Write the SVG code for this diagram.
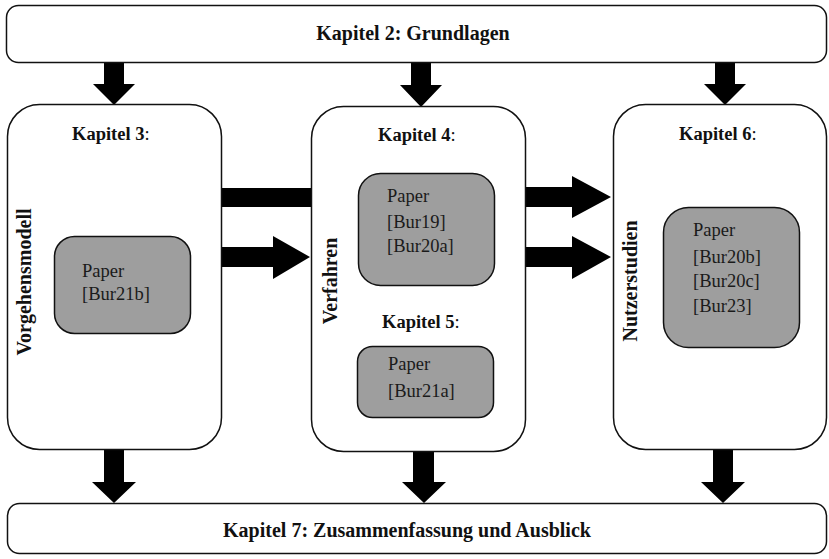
<svg xmlns="http://www.w3.org/2000/svg" width="829" height="559" viewBox="0 0 829 559">
  <style>
    .frame { fill: #ffffff; stroke: #111111; stroke-width: 1.5; }
    .paper { fill: #9e9e9e; stroke: #111111; stroke-width: 1.5; }
    .arrow { fill: #000000; stroke: none; }
    text { font-family: "Liberation Serif", "Times New Roman", serif; font-size: 18.5px; fill: #111111; }
    .title { font-weight: bold; }
    .big { font-size: 20px; }
    .side { font-size: 20px; font-weight: bold; }
    .ref { fill: #1a1a1a; }
  </style>

  <!-- connectors (drawn first so boxes sit on top) -->
  <g id="connectors">
    <!-- Grundlagen to chapters -->
    <polygon class="arrow" points="104,62 124,62 124,84 135,84 114,105 93,84 104,84"/>
    <polygon class="arrow" points="411,62 431,62 431,85 442,85 421,107 400,85 411,85"/>
    <polygon class="arrow" points="715,62 735,62 735,84 746,84 725,105 704,84 715,84"/>
    <!-- Vorgehensmodell to Verfahren -->
    <rect class="arrow" x="222" y="188" width="90" height="19"/>
    <polygon class="arrow" points="222,247 273,247 273,236 310,257 273,279 273,267 222,267"/>
    <!-- Verfahren to Nutzerstudien -->
    <polygon class="arrow" points="525,187 572,187 572,176 611,197 572,218 572,207 525,207"/>
    <polygon class="arrow" points="525,247 572,247 572,236 611,257 572,279 572,267 525,267"/>
    <!-- chapters to Zusammenfassung -->
    <polygon class="arrow" points="104,450 124,450 124,482 136,482 114,503 92,482 104,482"/>
    <polygon class="arrow" points="413,452 434,452 434,482 446,482 424,503 402,482 413,482"/>
    <polygon class="arrow" points="713,450 733,450 733,482 745,482 723,503 701,482 713,482"/>
  </g>

  <g id="grundlagen">
    <rect class="frame" x="6.5" y="5.5" width="820" height="57" rx="12"/>
    <text class="title big" x="413" y="40" text-anchor="middle">Kapitel 2: Grundlagen</text>
  </g>

  <g id="kapitel3">
    <rect class="frame" x="7.5" y="104.5" width="214" height="345" rx="32"/>
    <text x="72" y="140"><tspan class="title">Kapitel 3</tspan>:</text>
    <text class="side" transform="translate(31,282) rotate(-90)" text-anchor="middle">Vorgehensmodell</text>
    <g id="paper-bur21b">
      <rect class="paper" x="54.5" y="236.5" width="136" height="97" rx="20"/>
      <text class="ref" x="82" y="277">Paper</text>
      <text class="ref" x="82" y="300">[Bur21b]</text>
    </g>
  </g>

  <g id="kapitel4-5">
    <rect class="frame" x="311.5" y="106.5" width="214" height="345" rx="32"/>
    <text x="378" y="141"><tspan class="title">Kapitel 4</tspan>:</text>
    <text class="side" transform="translate(337,281) rotate(-90)" text-anchor="middle">Verfahren</text>
    <g id="paper-bur19-bur20a">
      <rect class="paper" x="358.5" y="173.5" width="136" height="112" rx="22"/>
      <text class="ref" x="387" y="202">Paper</text>
      <text class="ref" x="387" y="228">[Bur19]</text>
      <text class="ref" x="387" y="252">[Bur20a]</text>
    </g>
    <text x="382" y="328"><tspan class="title">Kapitel 5</tspan>:</text>
    <g id="paper-bur21a">
      <rect class="paper" x="357.5" y="346.5" width="136" height="71" rx="15"/>
      <text class="ref" x="388" y="370">Paper</text>
      <text class="ref" x="388" y="397">[Bur21a]</text>
    </g>
  </g>

  <g id="kapitel6">
    <rect class="frame" x="613.5" y="104.5" width="213" height="345" rx="32"/>
    <text x="679" y="140"><tspan class="title">Kapitel 6</tspan>:</text>
    <text class="side" transform="translate(637,281) rotate(-90)" text-anchor="middle">Nutzerstudien</text>
    <g id="paper-bur20b-bur20c-bur23">
      <rect class="paper" x="663.5" y="207.5" width="136" height="140" rx="25"/>
      <text class="ref" x="693" y="236">Paper</text>
      <text class="ref" x="693" y="263">[Bur20b]</text>
      <text class="ref" x="693" y="287">[Bur20c]</text>
      <text class="ref" x="693" y="312">[Bur23]</text>
    </g>
  </g>

  <g id="zusammenfassung">
    <rect class="frame" x="7.5" y="503.5" width="819" height="50" rx="12"/>
    <text class="title big" x="407" y="537" text-anchor="middle">Kapitel 7: Zusammenfassung und Ausblick</text>
  </g>
</svg>
